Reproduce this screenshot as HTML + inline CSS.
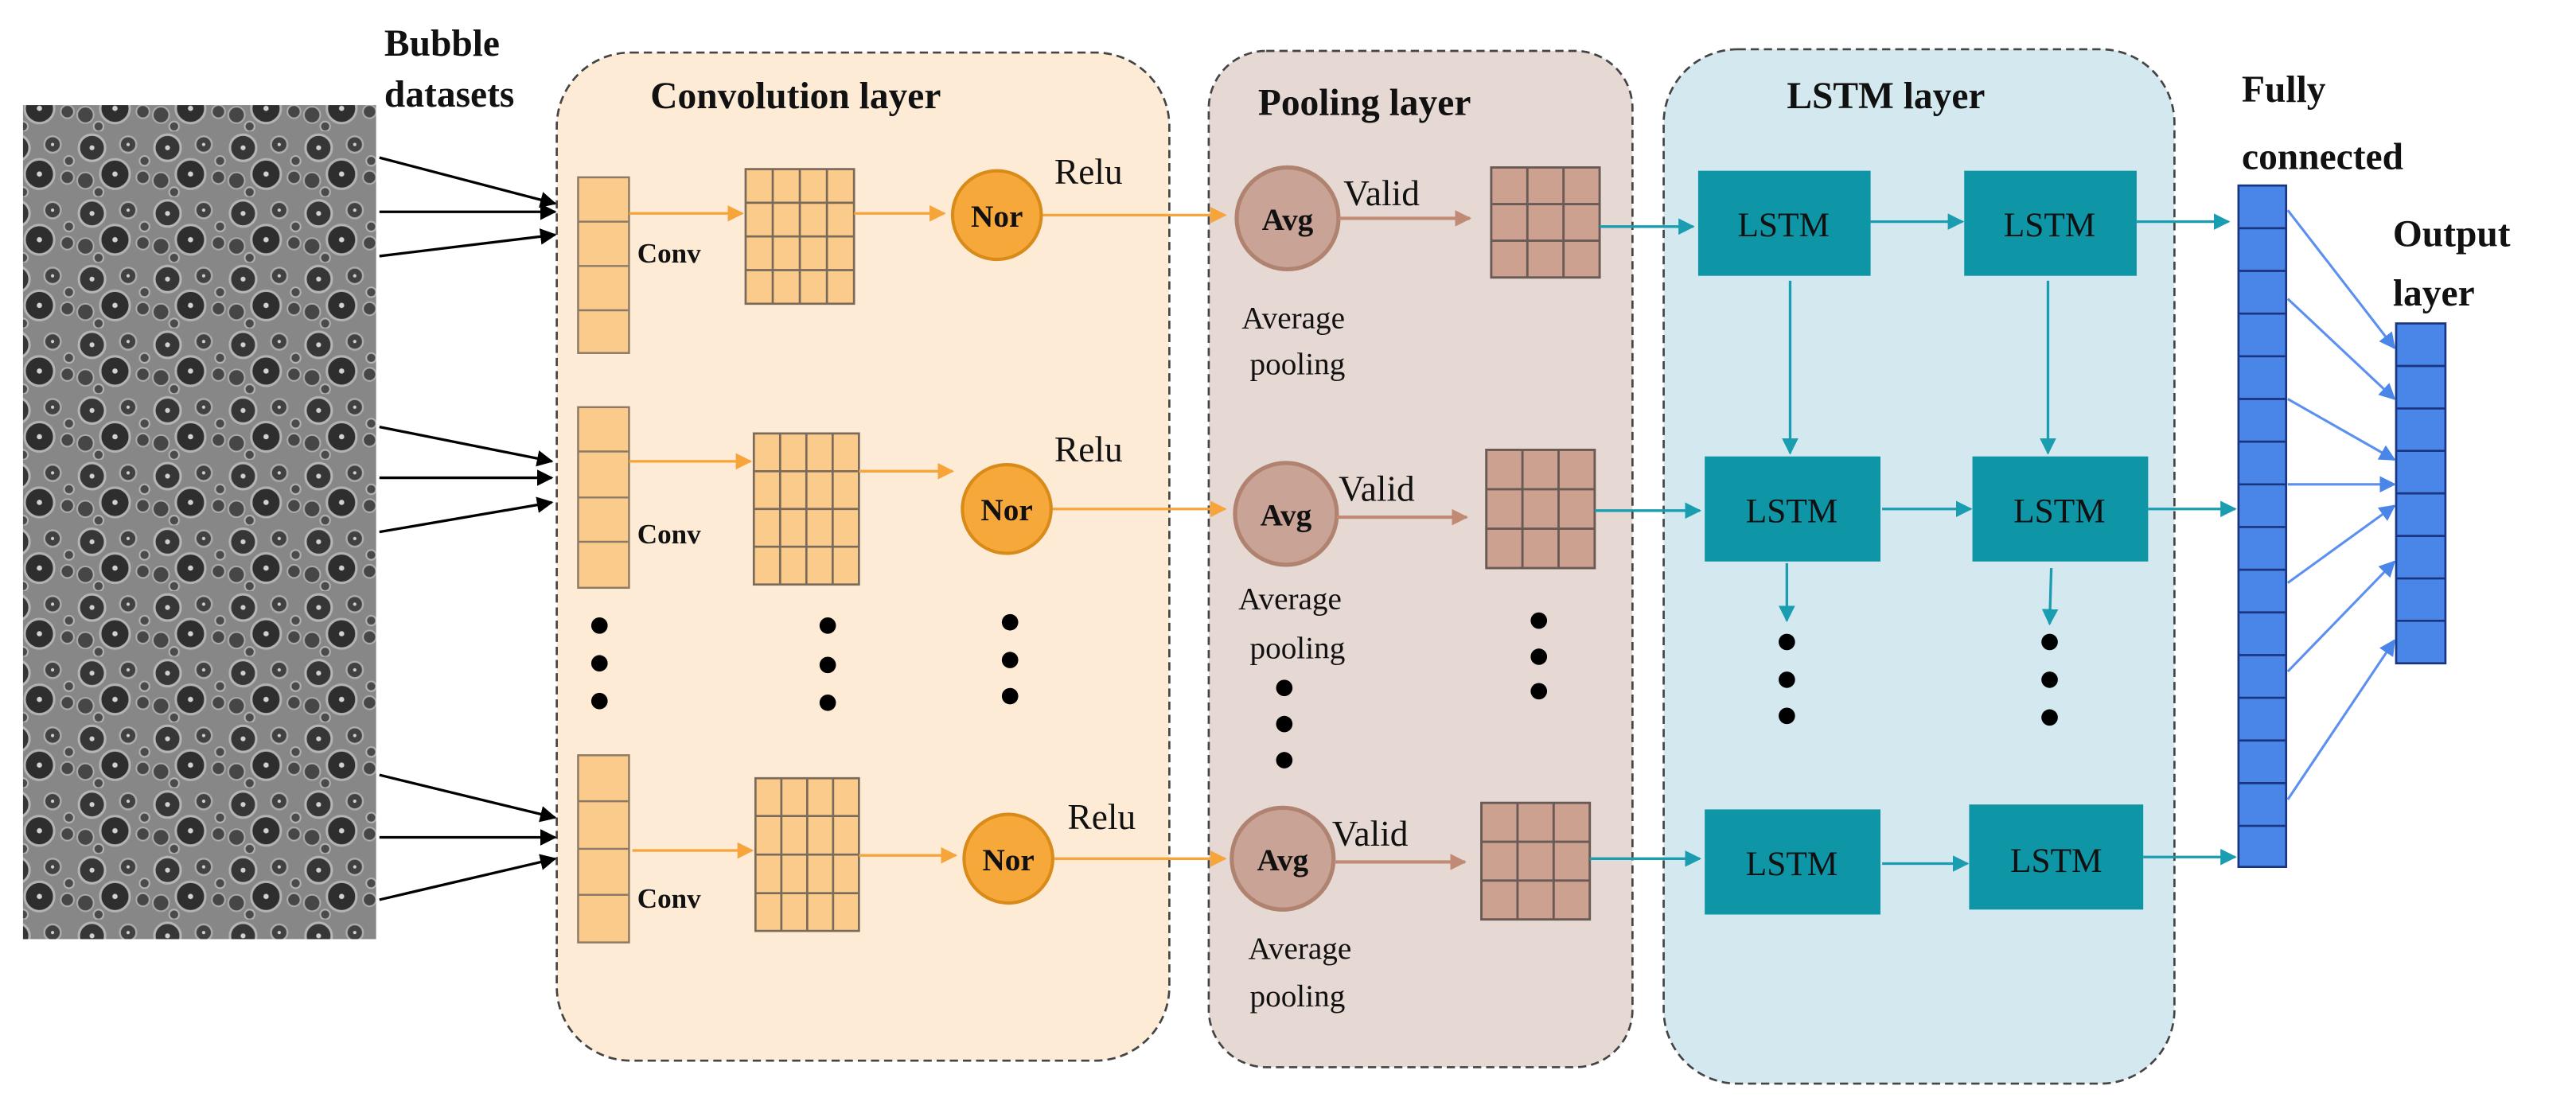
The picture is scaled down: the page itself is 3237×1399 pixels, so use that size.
<!DOCTYPE html>
<html><head><meta charset="utf-8"><style>html,body{margin:0;padding:0;background:#fff;}svg{display:block}svg text{font-family:"Liberation Serif","DejaVu Serif",serif;}</style></head>
<body>
<svg xmlns="http://www.w3.org/2000/svg" width="3237" height="1399" viewBox="0 0 1568.5 677.9">
<defs>
<pattern id="bub" x="0" y="0" width="46" height="40" patternUnits="userSpaceOnUse">
<rect width="46" height="40" fill="#9a9a9a"/>
<circle cx="10" cy="10" r="8" fill="#3e3e3e" stroke="#d0d0d0" stroke-width="1.5"/><circle cx="10" cy="10" r="1.5" fill="#eee"/>
<circle cx="32" cy="8" r="5" fill="#4a4a4a" stroke="#c4c4c4" stroke-width="1.2"/><circle cx="32" cy="8" r="1" fill="#eee"/>
<circle cx="24" cy="26" r="9" fill="#353535" stroke="#cccccc" stroke-width="1.5"/><circle cx="24" cy="26" r="1.6" fill="#f0f0f0"/>
<circle cx="6" cy="30" r="5" fill="#505050" stroke="#c4c4c4"/><circle cx="41" cy="28" r="4" fill="#505050" stroke="#c4c4c4"/>
<circle cx="42" cy="18" r="3" fill="#555" stroke="#ccc"/><circle cx="14" cy="37" r="3" fill="#555" stroke="#ccc"/>
</pattern>
<marker id="ab" markerWidth="10" markerHeight="10" refX="9" refY="5" orient="auto" markerUnits="userSpaceOnUse"><path d="M0,0 L10,5 L0,10 z" fill="#000"/></marker>
<marker id="ao" markerWidth="10" markerHeight="10" refX="9" refY="5" orient="auto" markerUnits="userSpaceOnUse"><path d="M0,0 L10,5 L0,10 z" fill="#f7a43a"/></marker>
<marker id="ar" markerWidth="10" markerHeight="10" refX="9" refY="5" orient="auto" markerUnits="userSpaceOnUse"><path d="M0,0 L10,5 L0,10 z" fill="#c08a74"/></marker>
<marker id="at" markerWidth="10" markerHeight="10" refX="9" refY="5" orient="auto" markerUnits="userSpaceOnUse"><path d="M0,0 L10,5 L0,10 z" fill="#1a9db0"/></marker>
<marker id="au" markerWidth="10" markerHeight="10" refX="9" refY="5" orient="auto" markerUnits="userSpaceOnUse"><path d="M0,0 L10,5 L0,10 z" fill="#4a86e8"/></marker>
</defs>
<rect x="14" y="64" width="215" height="508" fill="url(#bub)"/>
<rect x="14" y="64" width="215" height="508" fill="#000" opacity="0.12"/>
<rect x="339" y="32" width="373" height="614" rx="45" fill="#fdebd6" stroke="#444" stroke-width="1.3" stroke-dasharray="5,3"/>
<rect x="736" y="31" width="258" height="619" rx="35" fill="#e6d8d2" stroke="#444" stroke-width="1.3" stroke-dasharray="5,3"/>
<rect x="1013" y="30" width="311" height="630" rx="45" fill="#d4e9ef" stroke="#444" stroke-width="1.3" stroke-dasharray="5,3"/>
<g font-weight="bold" font-size="23" fill="#111">
<text x="234" y="34">Bubble</text><text x="234" y="65">datasets</text>
<text x="396" y="66">Convolution layer</text>
<text x="766" y="70">Pooling layer</text>
<text x="1088" y="66">LSTM layer</text>
<text x="1365" y="62">Fully</text><text x="1365" y="103">connected</text>
<text x="1457" y="150">Output</text><text x="1457" y="186">layer</text>
</g>
<g stroke="#000" stroke-width="1.6" marker-end="url(#ab)">
<line x1="231" y1="96" x2="338" y2="124"/><line x1="231" y1="129" x2="338" y2="129"/><line x1="231" y1="156" x2="338" y2="143"/>
<line x1="231" y1="260" x2="336" y2="281"/><line x1="231" y1="291" x2="336" y2="291"/><line x1="231" y1="324" x2="336" y2="306"/>
<line x1="231" y1="472" x2="338" y2="498"/><line x1="231" y1="510" x2="338" y2="510"/><line x1="231" y1="548" x2="338" y2="523"/>
</g>
<g stroke="#8c7a66" stroke-width="1.2" fill="#fbcb8c">
<rect x="352" y="108" width="31" height="107"/><line x1="352" y1="135" x2="383" y2="135"/><line x1="352" y1="162" x2="383" y2="162"/><line x1="352" y1="189" x2="383" y2="189"/>
<rect x="352" y="248" width="31" height="110"/><line x1="352" y1="275" x2="383" y2="275"/><line x1="352" y1="303" x2="383" y2="303"/><line x1="352" y1="330" x2="383" y2="330"/>
<rect x="352" y="460" width="31" height="114"/><line x1="352" y1="488" x2="383" y2="488"/><line x1="352" y1="517" x2="383" y2="517"/><line x1="352" y1="545" x2="383" y2="545"/>
</g>
<g stroke="#7a6a5a" stroke-width="1.3" fill="#fbcb8c">
<rect x="454" y="103" width="66" height="82"/><path d="M470.5,103V185M487,103V185M503.5,103V185M454,123.5H520M454,144H520M454,164.5H520" fill="none"/>
<rect x="459" y="264" width="64" height="92"/><path d="M475,264V356M491,264V356M507,264V356M459,287H523M459,310H523M459,333H523" fill="none"/>
<rect x="460" y="474" width="63" height="93"/><path d="M475.75,474V567M491.5,474V567M507.25,474V567M460,497H523M460,520.5H523M460,544H523" fill="none"/>
</g>
<g font-weight="bold" font-size="17" fill="#111">
<text x="388" y="160">Conv</text><text x="388" y="331">Conv</text><text x="388" y="553">Conv</text>
</g>
<g stroke="#f7a43a" stroke-width="1.6" fill="none" marker-end="url(#ao)">
<line x1="383" y1="130" x2="452" y2="130"/><line x1="520" y1="130" x2="575" y2="130"/><line x1="634" y1="131" x2="746" y2="131"/>
<line x1="383" y1="281" x2="457" y2="281"/><line x1="523" y1="287" x2="580" y2="287"/><line x1="640" y1="310" x2="746" y2="310"/>
<line x1="385" y1="518" x2="458" y2="518"/><line x1="523" y1="521" x2="582" y2="521"/><line x1="642" y1="523" x2="746" y2="523"/>
</g>
<g fill="#f6a83a" stroke="#d98b1a" stroke-width="2">
<circle cx="607" cy="131" r="27"/><circle cx="613" cy="310" r="27"/><circle cx="614" cy="523" r="27"/>
</g>
<g font-weight="bold" font-size="19" fill="#111" text-anchor="middle">
<text x="607" y="138">Nor</text><text x="613" y="317">Nor</text><text x="614" y="530">Nor</text>
</g>
<g font-size="22" fill="#111">
<text x="642" y="112">Relu</text><text x="642" y="281">Relu</text><text x="650" y="505">Relu</text>
<text x="818" y="125">Valid</text><text x="815" y="305">Valid</text><text x="811" y="515">Valid</text>
</g>
<g fill="#000">
<circle cx="365" cy="381" r="5"/><circle cx="365" cy="404" r="5"/><circle cx="365" cy="427" r="5"/>
<circle cx="504" cy="381" r="5"/><circle cx="504" cy="405" r="5"/><circle cx="504" cy="428" r="5"/>
<circle cx="615" cy="379" r="5"/><circle cx="615" cy="402" r="5"/><circle cx="615" cy="424" r="5"/>
<circle cx="782" cy="419" r="5"/><circle cx="782" cy="441" r="5"/><circle cx="782" cy="463" r="5"/>
<circle cx="937" cy="378" r="5"/><circle cx="937" cy="400" r="5"/><circle cx="937" cy="421" r="5"/>
<circle cx="1088" cy="391" r="5"/><circle cx="1088" cy="414" r="5"/><circle cx="1088" cy="436" r="5"/>
<circle cx="1248" cy="391" r="5"/><circle cx="1248" cy="414" r="5"/><circle cx="1248" cy="437" r="5"/>
</g>
<g fill="#c9a395" stroke="#b08270" stroke-width="2.5">
<circle cx="784" cy="133" r="31"/><circle cx="783" cy="313" r="31"/><circle cx="781" cy="523" r="31"/>
</g>
<g font-weight="bold" font-size="19" fill="#111" text-anchor="middle">
<text x="784" y="140">Avg</text><text x="783" y="320">Avg</text><text x="781" y="530">Avg</text>
</g>
<g font-size="19" fill="#111">
<text x="756" y="200">Average</text><text x="761" y="228">pooling</text>
<text x="754" y="371">Average</text><text x="761" y="401">pooling</text>
<text x="760" y="584">Average</text><text x="761" y="613">pooling</text>
</g>
<g stroke="#c08a74" stroke-width="2" marker-end="url(#ar)">
<line x1="815" y1="133" x2="895" y2="133"/><line x1="814" y1="315" x2="893" y2="315"/><line x1="812" y1="525" x2="892" y2="525"/>
</g>
<g stroke="#6a5a55" stroke-width="1.4" fill="#cca190">
<rect x="908" y="102" width="66" height="67"/><path d="M930,102V169M952,102V169M908,124.3H974M908,146.6H974" fill="none"/>
<rect x="905" y="274" width="66" height="72"/><path d="M927,274V346M949,274V346M905,298H971M905,322H971" fill="none"/>
<rect x="902" y="489" width="66" height="71"/><path d="M924,489V560M946,489V560M902,512.7H968M902,536.3H968" fill="none"/>
</g>
<g stroke="#1a9db0" stroke-width="1.6" marker-end="url(#at)">
<line x1="974" y1="138" x2="1031" y2="138"/><line x1="971" y1="311" x2="1035" y2="311"/><line x1="968" y1="523" x2="1035" y2="523"/>
<line x1="1139" y1="135" x2="1195" y2="135"/><line x1="1146" y1="310" x2="1200" y2="310"/><line x1="1146" y1="526" x2="1198" y2="526"/>
<line x1="1301" y1="135" x2="1357" y2="135"/><line x1="1308" y1="310" x2="1361" y2="310"/><line x1="1305" y1="522" x2="1361" y2="522"/>
<line x1="1090" y1="171" x2="1090" y2="276"/><line x1="1247" y1="171" x2="1247" y2="276"/>
<line x1="1088" y1="343" x2="1088" y2="378"/><line x1="1249" y1="346" x2="1248" y2="380"/>
</g>
<g fill="#0e95a6">
<rect x="1034" y="104" width="105" height="64"/><rect x="1196" y="104" width="105" height="64"/>
<rect x="1038" y="278" width="107" height="64"/><rect x="1201" y="278" width="107" height="64"/>
<rect x="1038" y="493" width="107" height="64"/><rect x="1199" y="490" width="106" height="64"/>
</g>
<g font-size="21" fill="#111" text-anchor="middle">
<text x="1086" y="144">LSTM</text><text x="1248" y="144">LSTM</text>
<text x="1091" y="318">LSTM</text><text x="1254" y="318">LSTM</text>
<text x="1091" y="533">LSTM</text><text x="1252" y="531">LSTM</text>
</g>
<g fill="#4a86e8" stroke="#1a3580" stroke-width="1.3">
<rect x="1363" y="113" width="29" height="415"/>
<rect x="1459" y="197" width="30" height="207"/>
</g>
<g stroke="#1a3580" stroke-width="1.3">
<path d="M1363,139H1392M1363,165H1392M1363,191H1392M1363,217H1392M1363,243H1392M1363,269H1392M1363,295H1392M1363,321H1392M1363,347H1392M1363,373H1392M1363,399H1392M1363,425H1392M1363,451H1392M1363,477H1392M1363,503H1392"/>
<path d="M1459,222.9H1489M1459,248.8H1489M1459,274.6H1489M1459,300.5H1489M1459,326.4H1489M1459,352.3H1489M1459,378.1H1489"/>
</g>
<g stroke="#5b8ff0" stroke-width="1.5" marker-end="url(#au)">
<line x1="1393" y1="128" x2="1458" y2="212"/><line x1="1393" y1="182" x2="1458" y2="243"/>
<line x1="1393" y1="243" x2="1458" y2="280"/><line x1="1393" y1="295" x2="1458" y2="295"/>
<line x1="1393" y1="355" x2="1458" y2="308"/><line x1="1393" y1="409" x2="1458" y2="342"/>
<line x1="1393" y1="487" x2="1458" y2="390"/>
</g>
</svg>
</body></html>
